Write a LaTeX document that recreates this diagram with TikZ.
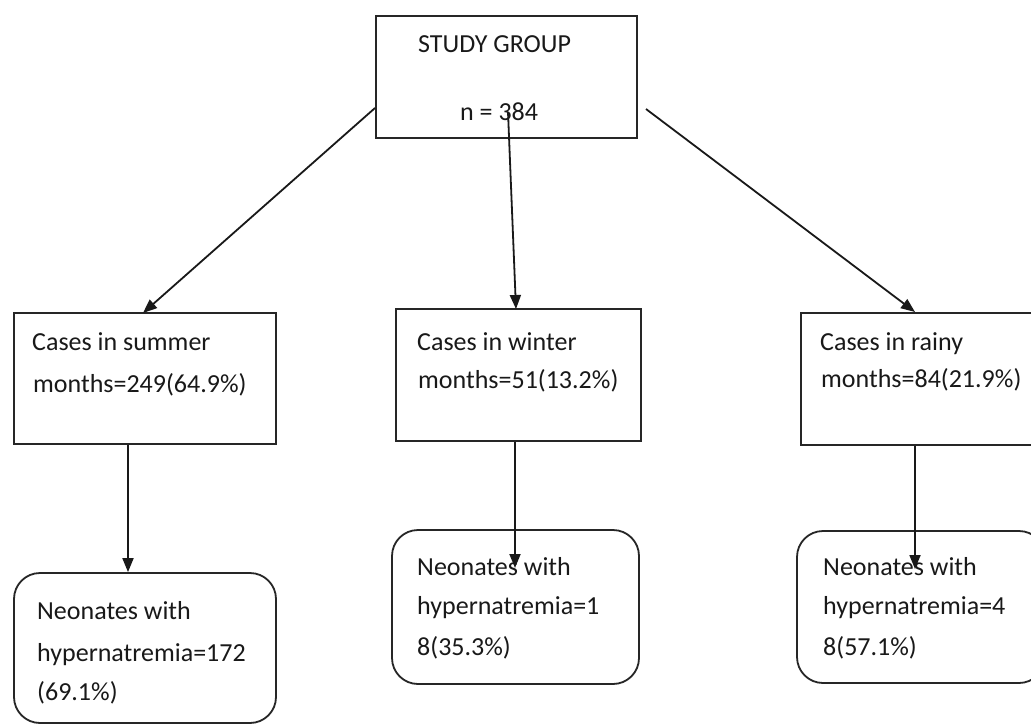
\documentclass[tikz,border=0pt]{standalone}
\usepackage{fontspec}
\setmainfont{Carlito}
\usetikzlibrary{arrows.meta}
\tikzset{
  box/.style={draw=black!85, line width=1.8pt, rectangle, inner sep=0pt},
  rbox/.style={box, rounded corners=26pt},
  txt/.style={anchor=base west, inner sep=0pt, font=\fontsize{26}{30}\selectfont, text=black!90},
  arr/.style={draw=black!90, line width=1.8pt, -{Triangle[length=14pt,width=11pt]}}
}
\begin{document}
\begin{tikzpicture}[x=1pt,y=-1pt]
\useasboundingbox (0,0) rectangle (1031,725);
\clip (0,0) rectangle (1031,725);
\fill[white] (0,0) rectangle (1031,725);
% boxes
\node[box, minimum width=261pt, minimum height=122pt] (top) at (506.5,77) {};
\node[box, minimum width=262pt, minimum height=131pt] (summer) at (145,378.5) {};
\node[box, minimum width=245pt, minimum height=132pt] (winter) at (518.5,375) {};
\node[box, minimum width=244pt, minimum height=132pt] (rainy) at (923,379) {};
\node[rbox, minimum width=262pt, minimum height=150pt] (nsum) at (145,648) {};
\node[rbox, minimum width=247pt, minimum height=154pt] (nwin) at (515.5,607) {};
\node[rbox, minimum width=248pt, minimum height=152pt] (nrain) at (921,607) {};
% texts
\node[txt] (tg1) at (418,53) {STUDY GROUP};
\node[txt] (tg2) at (460,120) {n = 384};
\node[txt] (ts1) at (32,350) {Cases in summer};
\node[txt] (ts2) at (33,392) {months=249(64.9\%)};
\node[txt] (tw1) at (417,350) {Cases in winter};
\node[txt] (tw2) at (418,388) {months=51(13.2\%)};
\node[txt] (tr1) at (820,350) {Cases in rainy};
\node[txt] (tr2) at (821,387) {months=84(21.9\%)};
\node[txt] (ns1) at (37,619) {Neonates with};
\node[txt] (ns2) at (37,661) {hypernatremia=172};
\node[txt] (ns3) at (37,700) {(69.1\%)};
\node[txt] (nw1) at (417,575) {Neonates with};
\node[txt] (nw2) at (417,614) {hypernatremia=1};
\node[txt] (nw3) at (417,655) {8(35.3\%)};
\node[txt] (nr1) at (823,575) {Neonates with};
\node[txt] (nr2) at (823,614) {hypernatremia=4};
\node[txt] (nr3) at (823,655) {8(57.1\%)};
% connector points
\coordinate (c1s) at (375,108);
\coordinate (c1e) at (143,313);
\coordinate (c2s) at (508,112);
\coordinate (c2e) at (516,309);
\coordinate (c3s) at (646,109);
\coordinate (c3e) at (915,312);
\coordinate (sd) at (128,0);
\coordinate (wd) at (515,0);
\coordinate (rd) at (915,0);
\coordinate (wde) at (515,568);
\coordinate (rde) at (915,569);
% connectors
\draw[arr] (c1s) -- (c1e);
\draw[arr] (c2s) -- (c2e);
\draw[arr] (c3s) -- (c3e);
\draw[arr] (summer.south -| sd) -- (nsum.north -| sd);
\draw[arr] (winter.south -| wd) -- (wde);
\draw[arr] (rainy.south -| rd) -- (rde);
\end{tikzpicture}
\end{document}
